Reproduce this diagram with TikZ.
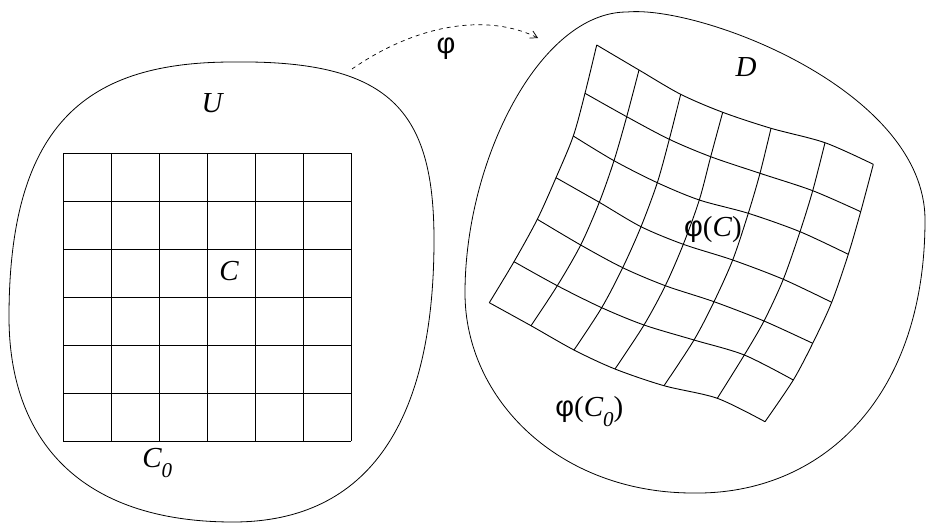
\documentclass[tikz,border=0pt]{standalone}
\usepackage{fontspec}
\setmainfont{Liberation Serif}
\newfontfamily\phifont{Liberation Sans}
\newcommand\myphi{{\phifont\upshape φ}}
\newcommand\subzero{\raisebox{-10pt}{\fontsize{21}{21}\selectfont\itshape 0}}
\newcommand\lp{\textup{(}}
\newcommand\rp{\textup{)}}
\usetikzlibrary{arrows.meta}
\begin{document}
\begin{tikzpicture}[x=1pt,y=-1pt,line width=0.8pt,
  blob/.style={draw,line width=0.8pt},
  gridline/.style={draw,line width=0.9pt},
  lbl/.style={inner sep=0pt,font=\fontsize{29}{31}\selectfont\itshape},
  maparrow/.style={draw,dashed,dash pattern=on 4pt off 4pt,line width=0.7pt,-{Straight Barb[length=7pt,width=8pt]}}]
\useasboundingbox (0,0) rectangle (927,523);
% left blob U
\path[blob] (233,62) .. controls (390,60) and (434,110) .. (434,240)
  .. controls (434,420) and (370,522) .. (233,522)
  .. controls (80,522) and (9,440) .. (9,317)
  .. controls (9,120) and (90,62) .. (233,62) -- cycle;
% right blob D
\path[blob] (627,12) .. controls (700,5) and (925,90) .. (925,220)
  .. controls (925,400) and (820,495) .. (693,493)
  .. controls (560,493) and (465,400) .. (465,293)
  .. controls (465,160) and (540,12) .. (627,12) -- cycle;
% left grid
\foreach \i in {0,...,6} {
  \path[gridline] (63+48*\i,153) -- (63+48*\i,441);
  \path[gridline] (63,153+48*\i) -- (351,153+48*\i);
}
% right warped grid: rows
\path[gridline] plot[smooth] coordinates {(596.7,45.0) (639.0,70.0) (680.7,94.3) (722.7,112.3) (771.0,128.3) (825.0,142.7) (873.3,164.3)};
\path[gridline] plot[smooth] coordinates {(585.0,93.3) (626.7,116.7) (669.3,139.3) (710.7,156.7) (760.0,173.3) (812.7,190.7) (860.7,211.7)};
\path[gridline] plot[smooth] coordinates {(573.3,136.0) (614.0,160.7) (657.3,182.7) (699.3,200.0) (748.3,213.3) (800.0,231.7) (848.3,254.3)};
\path[gridline] plot[smooth] coordinates {(556.0,177.7) (599.3,202.3) (641.0,226.7) (683.3,244.3) (732.7,260.0) (783.3,279.3) (831.7,302.3)};
\path[gridline] plot[smooth] coordinates {(537.3,219.3) (580.7,245.0) (622.7,267.7) (665.3,285.7) (714.0,301.7) (764.0,321.0) (812.7,343.3)};
\path[gridline] plot[smooth] coordinates {(514.0,261.7) (557.3,285.7) (601.7,307.7) (644.0,325.0) (694.0,340.0) (744.3,355.0) (793.3,380.0)};
\path[gridline] plot[smooth] coordinates {(489.3,302.7) (531.0,325.7) (574.0,350.0) (615.0,369.0) (664.0,385.7) (717.3,398.3) (765.0,421.7)};
% right warped grid: columns
\path[gridline] plot[smooth] coordinates {(596.7,45.0) (585.0,93.3) (573.3,136.0) (556.0,177.7) (537.3,219.3) (514.0,261.7) (489.3,302.7)};
\path[gridline] plot[smooth] coordinates {(639.0,70.0) (626.7,116.7) (614.0,160.7) (599.3,202.3) (580.7,245.0) (557.3,285.7) (531.0,325.7)};
\path[gridline] plot[smooth] coordinates {(680.7,94.3) (669.3,139.3) (657.3,182.7) (641.0,226.7) (622.7,267.7) (601.7,307.7) (574.0,350.0)};
\path[gridline] plot[smooth] coordinates {(722.7,112.3) (710.7,156.7) (699.3,200.0) (683.3,244.3) (665.3,285.7) (644.0,325.0) (615.0,369.0)};
\path[gridline] plot[smooth] coordinates {(771.0,128.3) (760.0,173.3) (748.3,213.3) (732.7,260.0) (714.0,301.7) (694.0,340.0) (664.0,385.7)};
\path[gridline] plot[smooth] coordinates {(825.0,142.7) (812.7,190.7) (800.0,231.7) (783.3,279.3) (764.0,321.0) (744.3,355.0) (717.3,398.3)};
\path[gridline] plot[smooth] coordinates {(873.3,164.3) (860.7,211.7) (848.3,254.3) (831.7,302.3) (812.7,343.3) (793.3,380.0) (765.0,421.7)};
% labels
\node[lbl] (U) at (212,103) {U};
\node[lbl] (C) at (229,271) {C};
\node[lbl,anchor=west] (C0) at (142,463) {C\subzero};
\node[lbl] (D) at (746,67) {D};
\node[lbl] (phiC) at (713,230) {\myphi\lp C\rp};
\node[lbl,anchor=west] (phiC0) at (555,412) {\myphi\lp C\subzero\rp};
\node[lbl] (phi) at (446,49) {\myphi};
% mapping arrow
\coordinate (mapstart) at (352,69);
\coordinate (mapend) at (538,38);
\path[maparrow] (mapstart) .. controls (420,22) and (490,14) .. (mapend);
\end{tikzpicture}
\end{document}
